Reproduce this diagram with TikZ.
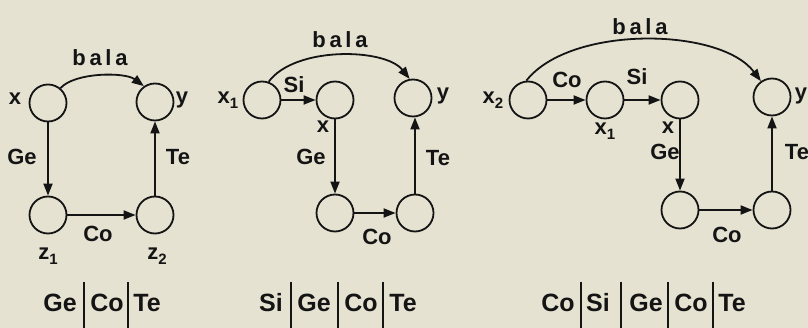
\documentclass[tikz,border=0pt]{standalone}
\usepackage{fontspec}
\setmainfont{Liberation Sans}
\usetikzlibrary{arrows.meta}
\definecolor{scanbg}{RGB}{230,226,210}
\definecolor{ink}{RGB}{20,20,20}
\newcommand\sbs[1]{\raisebox{-0.4ex}{\fontsize{15}{15}\selectfont #1}}
\begin{document}
\begin{tikzpicture}[x=1pt,y=-1pt,
  st/.style={circle,draw=ink,line width=1.8pt,minimum size=37pt,inner sep=0pt},
  lbl/.style={text=ink,font=\fontsize{22}{22}\selectfont\bfseries,inner sep=0pt},
  word/.style={text=ink,font=\fontsize{25}{25}\selectfont\bfseries,inner sep=0pt,anchor=base},
  arr/.style={draw=ink,line width=1.8pt,-{Triangle[length=12pt,width=9pt]}},
  sep/.style={draw=ink,line width=1.5pt}]
\fill[scanbg] (0,0) rectangle (808,328);
\useasboundingbox (0,0) rectangle (808,328);

% ---------- diagram 1 ----------
\node[st] (a1) at (48,103) {};
\node[st] (a2) at (155,102) {};
\node[st] (a3) at (48,215) {};
\node[st] (a4) at (155,215) {};
\draw[arr] (a1) -- (a3);
\draw[arr] (a3) -- (a4);
\draw[arr] (a4) -- (a2);
\draw[arr] (a1.50) .. controls (75,72) and (125,72) .. (a2.125);
\node[lbl] (a1l) at (15,99) {x};
\node[lbl] (a2l) at (182,100) {y};
\node[lbl] (a3l) at (48,256) {z\sbs{1}};
\node[lbl] (a4l) at (157,256) {z\sbs{2}};
\node[lbl] (aGe) at (22,157) {Ge};
\node[lbl] (aTe) at (178,157) {Te};
\node[lbl] (aCo) at (98,234) {Co};
\node[lbl] (abala) at (100,58) {b\,a\,l\,a};
\node[word] (aw1) at (60,312) {Ge};
\node[word] (aw2) at (107,312) {Co};
\node[word] (aw3) at (147,312) {Te};
\draw[sep] (84,282) -- (84,328);
\draw[sep] (128,282) -- (128,328);

% ---------- diagram 2 ----------
\node[st] (b1) at (262,100) {};
\node[st] (b2) at (335,100) {};
\node[st] (b3) at (413,98) {};
\node[st] (b4) at (335,213) {};
\node[st] (b5) at (415,213) {};
\draw[arr] (b1) -- (b2);
\draw[arr] (b2) -- (b4);
\draw[arr] (b4) -- (b5);
\draw[arr] (b5) -- (b5 |- b3.south);
\draw[arr] (b1.70) .. controls (295,46) and (385,48) .. (b3.100);
\node[lbl] (b1l) at (228,100) {x\sbs{1}};
\node[lbl] (b2l) at (323,127) {x};
\node[lbl] (b3l) at (443,96) {y};
\node[lbl] (bSi) at (294,85) {Si};
\node[lbl] (bGe) at (311,157) {Ge};
\node[lbl] (bTe) at (438,158) {Te};
\node[lbl] (bCo) at (377,237) {Co};
\node[lbl] (bbala) at (340,40) {b\,a\,l\,a};
\node[word] (bw1) at (271,312) {Si};
\node[word] (bw2) at (314,312) {Ge};
\node[word] (bw3) at (361,312) {Co};
\node[word] (bw4) at (403,312) {Te};
\draw[sep] (291,282) -- (291,328);
\draw[sep] (338,282) -- (338,328);
\draw[sep] (383,282) -- (383,328);

% ---------- diagram 3 ----------
\node[st] (c1) at (528,100) {};
\node[st] (c2) at (605,100) {};
\node[st] (c3) at (680,100) {};
\node[st] (c4) at (772,97) {};
\node[st] (c5) at (680,210) {};
\node[st] (c6) at (772,210) {};
\draw[arr] (c1) -- (c2);
\draw[arr] (c2) -- (c3);
\draw[arr] (c3) -- (c5);
\draw[arr] (c5) -- (c6);
\draw[arr] (c6) -- (c4);
\draw[arr] (c1.95) .. controls (570,25) and (720,27) .. (c4.125);
\node[lbl] (c1l) at (493,100) {x\sbs{2}};
\node[lbl] (c2l) at (605,131) {x\sbs{1}};
\node[lbl] (c3l) at (668,128) {x};
\node[lbl] (c4l) at (801,96) {y};
\node[lbl] (cCo1) at (567,80) {Co};
\node[lbl] (cSi) at (637,77) {Si};
\node[lbl] (cGe) at (665,152) {Ge};
\node[lbl] (cTe) at (797,152) {Te};
\node[lbl] (cCo2) at (727,235) {Co};
\node[lbl] (cbala) at (640,27) {b\,a\,l\,a};
\node[word] (cw1) at (558,312) {Co};
\node[word] (cw2) at (598,312) {Si};
\node[word] (cw3) at (646,312) {Ge};
\node[word] (cw4) at (691,312) {Co};
\node[word] (cw5) at (732,312) {Te};
\draw[sep] (581,282) -- (581,328);
\draw[sep] (621,282) -- (621,328);
\draw[sep] (668,282) -- (668,328);
\draw[sep] (713,282) -- (713,328);
\end{tikzpicture}
\end{document}
